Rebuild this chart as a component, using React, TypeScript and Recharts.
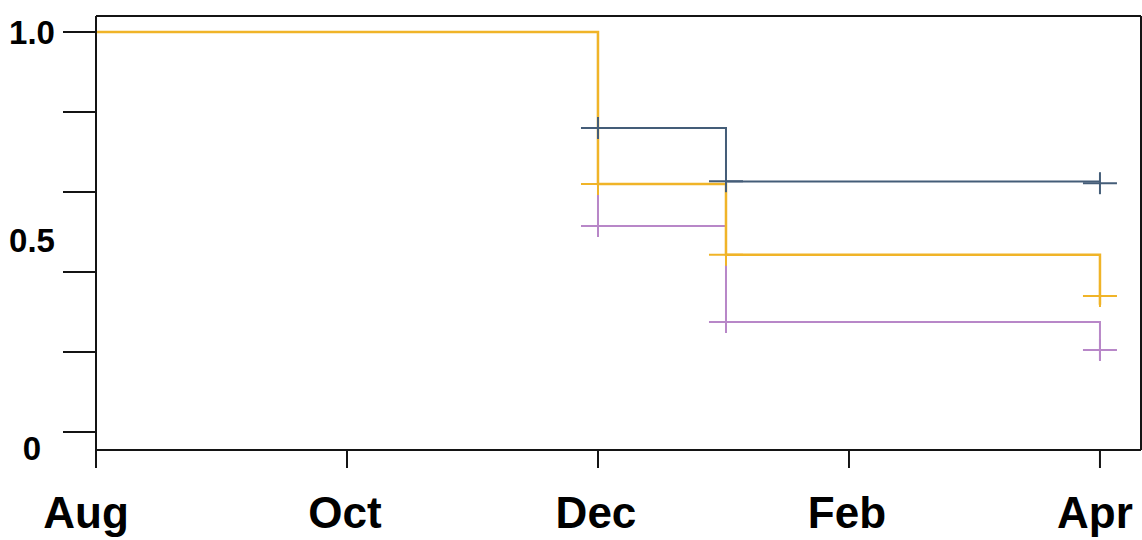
import {
  ComposedChart,
  Line,
  Scatter,
  XAxis,
  YAxis,
  ReferenceLine,
} from 'recharts';

// months since August
const monthLabels = ['Aug', 'Oct', 'Dec', 'Feb', 'Apr'];
const monthTicks = [0, 2, 4, 6, 8];

// tick marks every 0.2, labels sit where the original figure put them
const yMarks = [0, 0.2, 0.4, 0.6, 0.8, 1];
const yLabelAt = [1, 0.48, -0.04];
const yLabelText = ['1.0', '0.5', '0'];

const stepX = [0, 4, 5.02, 8];
const blueY = [1, 0.76, 0.626, 0.626];
const yellowY = [1, 0.62, 0.443, 0.318];
const purpleY = [1, 0.515, 0.275, 0.18];

const censorX = [4, 5.02, 8];
const blueCensor = [0.76, 0.627, 0.622];
const yellowCensor = [0.62, 0.443, 0.34];
const purpleCensor = [0.515, 0.275, 0.205];

const BLUE = '#445d78';
const YELLOW = '#f0b428';
const PURPLE = '#b887c8';
const INK = '#141414';
const FONT = '"Liberation Sans", Arial, sans-serif';
const AXIS_X = 96;

const toPoints = (xs: number[], ys: number[]) => xs.map((x, i) => ({ x, y: ys[i] }));

const Cross = (color: string) => (props: any) => {
  const { cx, cy } = props;
  return (
    <g>
      <line x1={cx - 17} x2={cx + 17} y1={cy} y2={cy} stroke={color} strokeWidth={2} />
      <line x1={cx} x2={cx} y1={cy - 11} y2={cy + 11} stroke={color} strokeWidth={2} />
    </g>
  );
};

function YTick({ y, payload }: any) {
  const v = payload.value;
  const li = yLabelAt.indexOf(v);
  return (
    <g>
      {yMarks.includes(v) && (
        <line x1={AXIS_X - 33} x2={AXIS_X} y1={y} y2={y} stroke={INK} strokeWidth={2} />
      )}
      {li >= 0 && (
        <text
          x={32}
          y={y}
          textAnchor="middle"
          dominantBaseline="central"
          fontFamily={FONT}
          fontWeight="bold"
          fontSize={33}
          fill="#000"
        >
          {yLabelText[li]}
        </text>
      )}
    </g>
  );
}

function XTick({ x, payload }: any) {
  const i = monthTicks.indexOf(payload.value);
  const shift = i === 0 ? -10 : i === monthTicks.length - 1 ? -5 : -2;
  return (
    <text
      x={x + shift}
      y={528}
      textAnchor="middle"
      fontFamily={FONT}
      fontWeight="bold"
      fontSize={44}
      fill="#000"
    >
      {monthLabels[i]}
    </text>
  );
}

export default function App() {
  return (
    <div style={{ position: 'absolute', left: 0, top: 0, background: '#fff' }}>
      <ComposedChart width={1142} height={540} margin={{ top: 16, right: 1, bottom: 0, left: 0 }}>
        <XAxis
          dataKey="x"
          type="number"
          domain={[0, 8.327]}
          ticks={monthTicks}
          interval={0}
          allowDataOverflow
          height={90}
          tickSize={18}
          axisLine={{ stroke: INK, strokeWidth: 2 }}
          tickLine={{ stroke: INK, strokeWidth: 2 }}
          tick={<XTick />}
        />
        <YAxis
          type="number"
          domain={[-0.045, 1.04]}
          ticks={[-0.04, 0, 0.2, 0.4, 0.48, 0.6, 0.8, 1]}
          interval={0}
          allowDataOverflow
          width={AXIS_X}
          axisLine={{ stroke: INK, strokeWidth: 2 }}
          tickLine={false}
          tick={<YTick />}
        />
        <ReferenceLine y={1.04} stroke={INK} strokeWidth={2} />
        <ReferenceLine x={8.327} stroke={INK} strokeWidth={2} />
        <Line
          data={toPoints(stepX, purpleY)}
          dataKey="y"
          type="stepAfter"
          stroke={PURPLE}
          strokeWidth={2}
          dot={false}
          isAnimationActive={false}
        />
        <Line
          data={toPoints(stepX, blueY)}
          dataKey="y"
          type="stepAfter"
          stroke={BLUE}
          strokeWidth={2}
          dot={false}
          isAnimationActive={false}
        />
        <Scatter data={toPoints(censorX, purpleCensor)} dataKey="y" shape={Cross(PURPLE)} isAnimationActive={false} />
        <Scatter data={toPoints(censorX, blueCensor)} dataKey="y" shape={Cross(BLUE)} isAnimationActive={false} />
        <Line
          data={toPoints(stepX, yellowY)}
          dataKey="y"
          type="stepAfter"
          stroke={YELLOW}
          strokeWidth={2.5}
          dot={false}
          isAnimationActive={false}
        />
        <Scatter data={toPoints(censorX, yellowCensor)} dataKey="y" shape={Cross(YELLOW)} isAnimationActive={false} />
      </ComposedChart>
    </div>
  );
}
